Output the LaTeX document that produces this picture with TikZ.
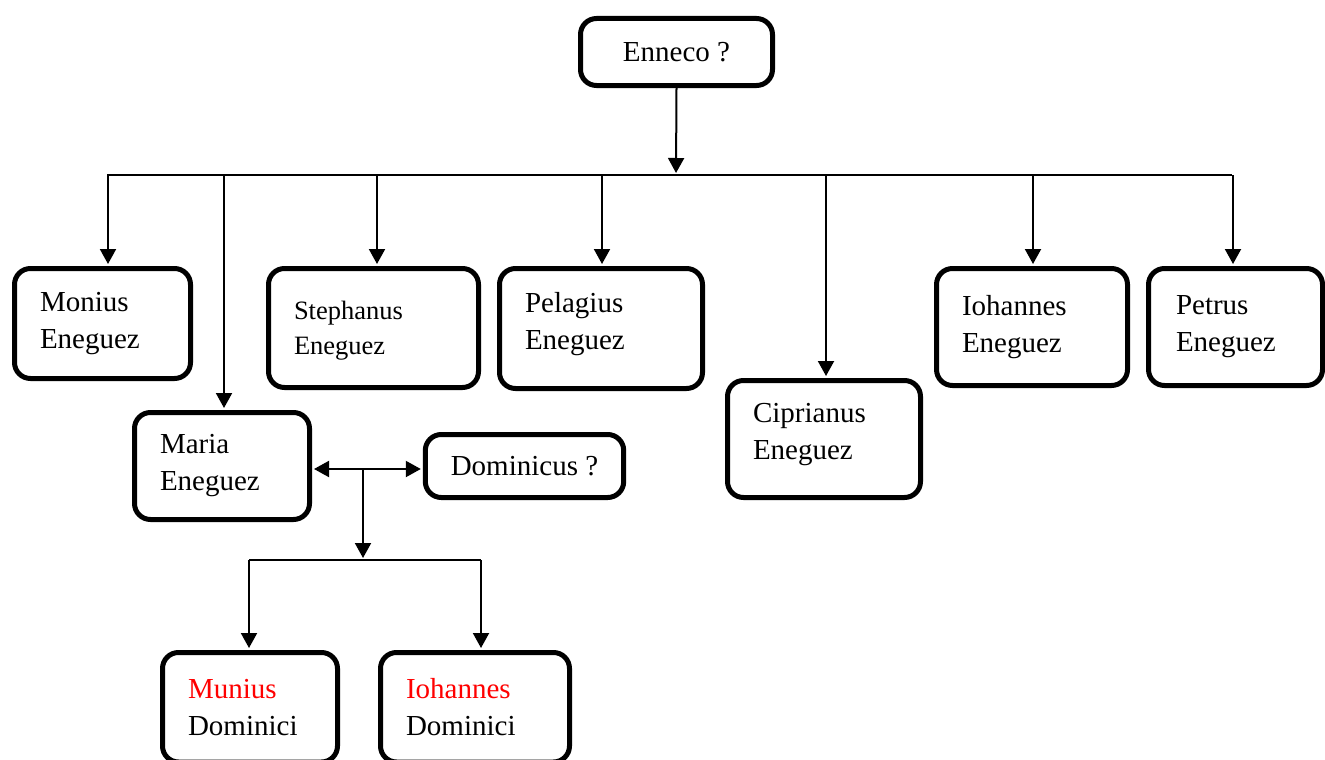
\documentclass[tikz,border=0pt]{standalone}
\usepackage{fontspec}
\setmainfont{Liberation Serif}
\usetikzlibrary{arrows.meta}
\begin{document}
\begin{tikzpicture}[x=1pt,y=-1pt,
  box/.style={draw, line width=5pt, rounded corners=16pt, inner xsep=25.5pt, inner ysep=0pt, align=left, font=\fontsize{29}{37}\selectfont},
  arr/.style={line width=2pt, -{Triangle[length=15pt,width=16pt]}, shorten >=2pt},
  dbl/.style={line width=2pt, {Triangle[length=15pt,width=16pt]}-{Triangle[length=15pt,width=16pt]}, shorten >=2pt, shorten <=2pt},
  ln/.style={line width=2pt}]
\useasboundingbox (0,0) rectangle (1325,760);

\node[box, align=center, minimum width=192pt, minimum height=67pt] (enn) at (676.5,52) {Enneco ?};

\node[box, minimum width=176pt, text width=125pt, minimum height=110pt] (mon) at (102.5,323.5) {Monius\\Eneguez};
\node[box, minimum width=210pt, text width=159pt, minimum height=119pt, font=\fontsize{26.5}{35}\selectfont, text depth=35pt] (ste) at (373.5,328) {Stephanus\\Eneguez};
\node[box, minimum width=203pt, text width=152pt, minimum height=120pt, text depth=52pt] (pel) at (601,328.5) {Pelagius\\Eneguez};
\node[box, minimum width=193pt, text width=142pt, minimum height=117pt, text depth=52pt] (cip) at (824,439) {Ciprianus\\Eneguez};
\node[box, minimum width=191pt, text width=140pt, minimum height=117pt] (ioe) at (1032,327) {Iohannes\\Eneguez};
\node[box, inner xsep=27.5pt, minimum width=174pt, text width=119pt, minimum height=117pt] (pet) at (1235.5,327) {Petrus\\Eneguez};
\node[box, minimum width=175pt, text width=124pt, minimum height=107pt] (mar) at (222,466) {Maria\\Eneguez};
\node[box, align=center, minimum width=196pt, minimum height=63pt] (dom) at (524.5,466) {Dominicus ?};
\node[box, minimum width=175pt, text width=124pt, minimum height=109.5pt] (mun) at (250,707.25) {\textcolor{red}{Munius}\\Dominici};
\node[box, minimum width=189pt, text width=138pt, minimum height=109.5pt] (iod) at (475,707.25) {\textcolor{red}{Iohannes}\\Dominici};

% first generation
\coordinate (top) at (676,175);
\coordinate (busL) at (107,175);
\coordinate (busR) at (1232,175);
\draw[arr] (enn.south) -- (top);
\draw[ln] (busL) -- (busR);
\coordinate (cmon) at (108,175);
\coordinate (cmar) at (224,175);
\coordinate (cste) at (377,175);
\coordinate (cpel) at (602,175);
\coordinate (ccip) at (826,175);
\coordinate (cioe) at (1033,175);
\coordinate (cpet) at (1233,175);
\draw[arr] (cmon) -- (cmon |- mon.north);
\draw[arr] (cmar) -- (cmar |- mar.north);
\draw[arr] (cste) -- (cste |- ste.north);
\draw[arr] (cpel) -- (cpel |- pel.north);
\draw[arr] (ccip) -- (ccip |- cip.north);
\draw[arr] (cioe) -- (cioe |- ioe.north);
\draw[arr] (cpet) -- (cpet |- pet.north);

% marriage and children
\coordinate (mid) at (363,469);
\draw[dbl] (mid -| mar.east) -- (mid -| dom.west);
\coordinate (bus2) at (363,560);
\draw[arr] (mid) -- (bus2);
\coordinate (b2L) at (249,560);
\coordinate (b2R) at (481,560);
\draw[ln] (b2L) -- (b2R);
\draw[arr] (b2L) -- (b2L |- mun.north);
\draw[arr] (b2R) -- (b2R |- iod.north);
\end{tikzpicture}
\end{document}
